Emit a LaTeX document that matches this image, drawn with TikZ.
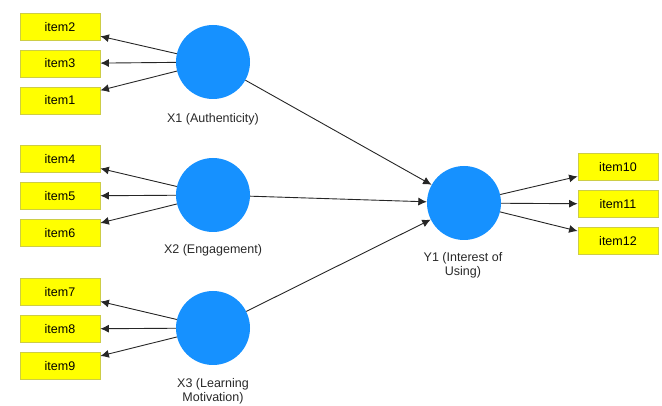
\documentclass[tikz,border=0pt]{standalone}
\usepackage{fontspec}
\setmainfont{Liberation Sans}
\usetikzlibrary{arrows.meta}
\definecolor{latentblue}{RGB}{22,145,255}
\definecolor{indic}{RGB}{255,255,0}
\definecolor{indicline}{RGB}{205,205,70}
\definecolor{nametext}{RGB}{40,40,40}
\begin{document}
\begin{tikzpicture}
  [x=1pt,y=-1pt,
   latentvar/.style={circle,fill=latentblue,minimum size=74pt,inner sep=0pt},
   itembox/.style={rectangle,fill=indic,draw=indicline,line width=0.8pt,minimum width=80pt,minimum height=27pt,inner sep=0pt,font=\fontsize{12.5}{13.5}\selectfont},
   varlabel/.style={align=center,text=nametext,font=\fontsize{12.5}{13.5}\selectfont},
   loadarrow/.style={-{Latex[length=8.5pt,width=8pt]},line width=0.9pt,draw=black!85}]
  \useasboundingbox (0,0) rectangle (662,406);
  % latent variables
  \node[latentvar] (x1) at (213,62) {};
  \node[latentvar] (x2) at (213,195) {};
  \node[latentvar] (x3) at (213,328) {};
  \node[latentvar] (y1) at (464,203) {};
  \node[varlabel] (lx1) at (213,119) {X1 (Authenticity)};
  \node[varlabel] (lx2) at (213,250) {X2 (Engagement)};
  \node[varlabel] (lx3) at (213,391.5) {X3 (Learning\\Motivation)};
  \node[varlabel] (ly1) at (463,265.5) {Y1 (Interest of\\Using)};
  % indicators
  \node[itembox] (i2) at (60,27) {item2};
  \node[itembox] (i3) at (60,63.5) {item3};
  \node[itembox] (i1) at (60,100.5) {item1};
  \node[itembox] (i4) at (60,159) {item4};
  \node[itembox] (i5) at (60,196) {item5};
  \node[itembox] (i6) at (60,233) {item6};
  \node[itembox] (i7) at (60,292) {item7};
  \node[itembox] (i8) at (60,329) {item8};
  \node[itembox] (i9) at (60,366) {item9};
  \node[itembox] (i10) at (618,167) {item10};
  \node[itembox] (i11) at (618,204) {item11};
  \node[itembox] (i12) at (618,241) {item12};
  \foreach \from/\to in {x1/i2,x1/i3,x1/i1,x2/i4,x2/i5,x2/i6,
  x3/i7,x3/i8,x3/i9,y1/i10,y1/i11,y1/i12,x1/y1,x2/y1,x3/y1}
    \draw[loadarrow] (\from) -- (\to);
\end{tikzpicture}
\end{document}
